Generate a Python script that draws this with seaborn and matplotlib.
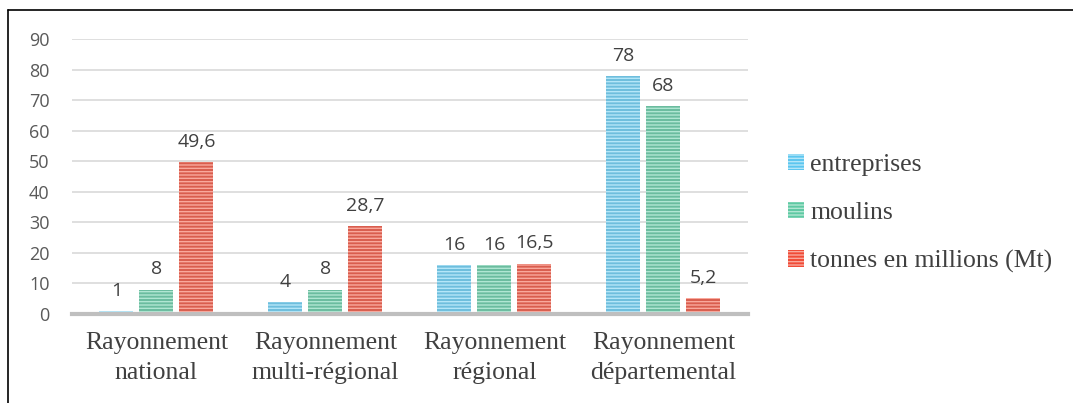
import pandas as pd
import matplotlib.pyplot as plt
import seaborn as sns
from matplotlib.lines import Line2D

# Data
categories = ['Rayonnement\nnational', 'Rayonnement\nmulti-régional',
              'Rayonnement\nrégional', 'Rayonnement\ndépartemental']
series = ['entreprises', 'moulins', 'tonnes en millions (Mt)']
entreprises = [1, 4, 16, 78]
moulins = [8, 8, 16, 68]
tonnes = [49.6, 28.7, 16.5, 5.2]

df = pd.DataFrame({
    'cat': categories * 3,
    'serie': [series[0]] * 4 + [series[1]] * 4 + [series[2]] * 4,
    'val': entreprises + moulins + tonnes,
})

colors = ['#5cc6ef', '#5ec9a3', '#f04b37']
hatch_cols = ['#b4e6f8', '#b0e6d2', '#f9a89c']

sns.set_style('white')
plt.rcParams['hatch.linewidth'] = 1.0
fig = plt.figure(figsize=(10.73, 4.03), dpi=100)
ax = fig.add_axes([0.067, 0.221, 0.63, 0.682])

sns.barplot(data=df, x='cat', y='val', hue='serie', palette=colors,
            width=0.71, gap=0.15, ax=ax, legend=False)

for i, cont in enumerate(ax.containers):
    for bar in cont:
        bar.set_hatch('-----')
        bar.set_edgecolor(hatch_cols[i])
        bar.set_linewidth(0)
    labels = [str(v).replace('.', ',') if v % 1 else str(int(v)) for v in cont.datavalues]
    ax.bar_label(cont, labels=labels, padding=8, fontsize=14, color='#404040',
                 family='Open Sans')

ax.set_ylim(0, 90)
ax.set_yticks(range(0, 91, 10))
ax.yaxis.grid(True, color='#d9d9d9', linewidth=1.2)
ax.set_axisbelow(True)
for s in ['top', 'right', 'left']:
    ax.spines[s].set_visible(False)
ax.spines['bottom'].set_color('#bfbfbf')
ax.spines['bottom'].set_linewidth(3)
ax.set_xlabel('')
ax.set_ylabel('')
ax.tick_params(axis='y', length=0, pad=16, labelsize=13, labelcolor='#595959')
ax.tick_params(axis='x', length=0, pad=13, labelsize=18.5, labelcolor='#404040')
for t in ax.get_yticklabels():
    t.set_family('Open Sans')
for t in ax.get_xticklabels():
    t.set_family('Liberation Serif')
    t.set_linespacing(1.45)

# Legend
handles = [plt.Rectangle((0, 0), 1, 1, facecolor=c, edgecolor=h, hatch='-----', linewidth=0)
           for c, h in zip(colors, hatch_cols)]
fig.legend(handles, series, loc='upper left', bbox_to_anchor=(0.713, 0.675),
           frameon=False, handlelength=0.6, handleheight=0.6, handletextpad=0.25,
           labelspacing=1.0, prop={'family': 'Liberation Serif', 'size': 18.5},
           labelcolor='#404040')

# Frame lines (left and top)
fig.add_artist(Line2D([0.0075, 0.0075], [0, 0.975], color='black', linewidth=1.2))
fig.add_artist(Line2D([0.0075, 1.0], [0.975, 0.975], color='black', linewidth=1.2))

fig.savefig('out.png', dpi=100)
